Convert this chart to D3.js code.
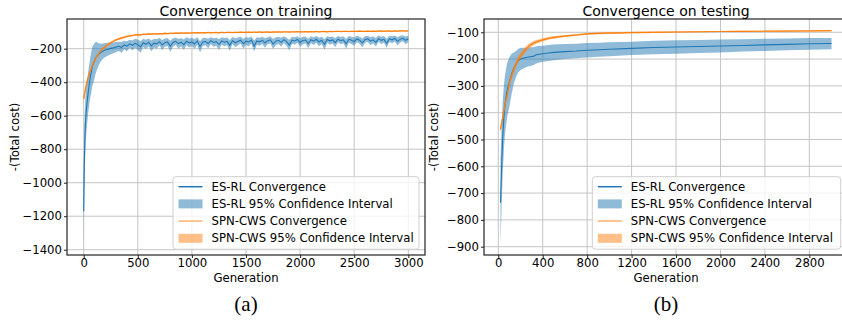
<!DOCTYPE html>
<html>
<head>
<meta charset="utf-8">
<script src="https://cdn.jsdelivr.net/npm/d3@7"></script>
<style>
  body { margin: 0; background: #fff; }
  text { font-family: 'DejaVu Sans', sans-serif; fill: #000; }
</style>
</head>
<body>
<div id="chart"></div>
<script>
// ---- data: training (every 25 generations after the early phase) ----
const trainGen = [0, 5, 10, 15, 20, 30, 40, 50, 60, 70, 80, 90, 100, 110, 120, 140, 160, 180, 200, 225, 250, 275, 300]
    .concat(d3.range(325, 3001, 25))

const trainEsMean = [
    -1170, -900, -760, -660, -600, -530, -470, -420, -375, -340, -305, -290,
    -272, -255, -245, -232, -222, -214, -208, -203, -198, -195, -190,
    -186, -192, -178, -185,  -171, -180, -168, -176,  -190, -165, -174, -162,
    -183, -167, -171, -158,  -178, -164, -160, -185,  -163, -156, -170, -161,
    -176, -155, -166, -159,  -172, -154, -188, -160,  -157, -169, -152, -163,
    -158, -175, -153, -161,  -156, -180, -151, -165,  -157, -149, -170, -155,
    -160, -148, -184, -154,  -159, -150, -166, -152,  -147, -172, -155, -150,
    -162, -146, -158, -178,  -149, -154, -145, -163,  -151, -148, -169, -146,
    -155, -144, -160, -150,  -175, -145, -153, -148,  -164, -143, -152, -147,
    -171, -144, -150, -158,  -142, -149, -166, -145,  -141, -155, -147, -162,
    -140, -150, -144, -168,  -141, -147, -139, -156,  -143, -138, -150, -141
]
const trainEsHalf = [
    210, 200, 180, 160, 145, 130, 125, 120, 120, 120, 118, 112,
    105, 95, 85, 65, 52, 45, 42, 38, 35, 32, 30,
    28, 32, 26, 30,  24, 29, 27, 31,  34, 25, 28, 23,  32, 26, 29, 22,
    30, 25, 24, 33,  26, 22, 29, 24,  31, 23, 27, 25,  29, 22, 34, 24,
    23, 28, 21, 26,  24, 31, 22, 25,  23, 32, 21, 27,  24, 20, 29, 23,
    25, 21, 33, 23,  24, 22, 28, 21,  21, 30, 23, 22,  27, 20, 24, 31,
    21, 23, 20, 26,  22, 21, 29, 20,  23, 20, 26, 22,  31, 20, 23, 21,
    27, 19, 22, 21,  29, 20, 22, 25,  19, 21, 27, 20,  19, 24, 21, 26,
    19, 22, 20, 28,  19, 21, 18, 25,  20, 18, 23, 19
]
const trainSpnMean = [
    -500, -480, -462, -445, -428, -400, -375, -355, -335, -318, -300, -285,
    -270, -258, -248, -228, -212, -198, -188, -175, -165, -155, -147,
    -141, -136, -131, -127,  -123, -121, -118, -116,  -117, -114, -115, -112,
    -113, -111, -112, -110,  -111, -109, -110, -108,  -109, -107, -108, -106,
    -108, -105, -107, -105,  -106, -104, -106, -104,  -105, -103, -105, -104,
    -103, -105, -102, -104,  -103, -102, -104, -102,  -103, -101, -103, -102,
    -101, -103, -101, -102,  -100, -102, -101, -100,  -102, -100, -101, -99,
    -101, -100, -99, -101,   -99, -100, -98, -100,   -99, -98, -100, -98,
    -99, -97, -99, -98,      -97, -99, -97, -98,      -97, -96, -98, -97,
    -96, -98, -96, -97,      -96, -95, -97, -96,      -95, -97, -95, -96,
    -95, -94, -96, -95,      -94, -96, -94, -95,      -94, -93, -95, -94
]
const trainSpnHalf = [
    22, 20, 18, 16, 15, 14, 13, 12, 12, 11, 11, 10,
    10, 10, 9, 9, 8, 8, 8, 7, 7, 7, 6,
    7, 7, 6, 6,  6, 5, 5, 5,  5, 4, 5, 4,  5, 4, 4, 4,  4, 5, 4, 4,
    4, 4, 4, 3,  4, 3, 4, 3,  3, 4, 3, 3,  4, 3, 3, 3,  3, 4, 3, 3,
    3, 3, 3, 3,  3, 3, 3, 3,  3, 3, 3, 3,  3, 3, 3, 3,  3, 3, 3, 3,
    3, 3, 3, 3,  3, 3, 3, 3,  3, 3, 3, 3,  3, 3, 3, 3,  3, 3, 3, 3,
    3, 3, 3, 3,  3, 3, 3, 3,  3, 3, 3, 3,  3, 3, 3, 3,  3, 3, 3, 3,
    3, 3, 3, 3,  3, 3, 3, 3,  3, 3, 3, 3
]

// ---- data: testing ----
const testGen = [20, 30, 40, 50, 60, 80, 100, 120, 140, 160, 180, 200, 230, 260, 290, 320, 340, 370,
    400, 450, 500, 600, 700, 800, 900, 1000, 1200, 1400, 1600, 1800, 2000, 2200, 2400, 2600, 2800, 3000]
const testEsMean = [-736, -600, -490, -420, -370, -315, -285, -255, -233, -218, -205, -200, -196, -193, -191, -189, -184, -182,
    -180, -177, -175, -172, -170, -167, -165, -163, -160, -157, -155, -153, -151, -149, -147, -145, -143, -142]
const testEsHalf = [160, 150, 135, 120, 110, 100, 92, 75, 58, 48, 44, 41, 38, 36, 35, 33, 32, 31,
    30, 30, 29, 28, 27, 27, 26, 26, 25, 25, 25, 24, 24, 23, 23, 22, 22, 21]
const testSpnMean = [-462, -440, -418, -395, -372, -335, -290, -262, -238, -218, -200, -188, -172, -158, -147, -140, -136, -132,
    -128, -123, -119, -114, -110, -106, -104, -103, -101, -100, -99, -98, -97, -96.5, -96, -95.5, -95, -94]
const testSpnHalf = [15, 14, 14, 13, 13, 12, 12, 12, 12, 12, 12, 12, 11, 10, 9, 8, 7, 6,
    6, 5, 5, 4, 4, 3, 3, 3, 3, 3, 2, 2, 2, 2, 2, 2, 2, 2]

const legendLabels = ['ES-RL Convergence', 'ES-RL 95% Confidence Interval', 'SPN-CWS Convergence', 'SPN-CWS 95% Confidence Interval']

const blue = '#1f77b4'
const orange = '#ff7f0e'

const svg = d3.select('#chart').append('svg')
    .attr('width', 842)
    .attr('height', 320)

function drawPanel(cfg) {
    const x = d3.scaleLinear().domain(cfg.xDomain).range([cfg.left, cfg.right])
    const y = d3.scaleLinear().domain(cfg.yDomain).range([cfg.bottom, cfg.top])
    const g = svg.append('g')

    // Grid lines
    g.selectAll('.vgrid').data(cfg.xTicks).join('line')
        .attr('x1', d => x(d)).attr('x2', d => x(d))
        .attr('y1', cfg.top).attr('y2', cfg.bottom)
        .attr('stroke', '#c4c4c4').attr('stroke-width', 1)
    g.selectAll('.hgrid').data(cfg.yTicks).join('line')
        .attr('x1', cfg.left).attr('x2', cfg.right)
        .attr('y1', d => y(d)).attr('y2', d => y(d))
        .attr('stroke', '#c4c4c4').attr('stroke-width', 1)

    svg.append('clipPath').attr('id', cfg.id)
        .append('rect')
        .attr('x', cfg.left).attr('y', cfg.top)
        .attr('width', cfg.right - cfg.left).attr('height', cfg.bottom - cfg.top)

    const plot = g.append('g').attr('clip-path', `url(#${cfg.id})`)

    const esRows = cfg.gens.map((d, i) => ({g: d, m: cfg.es[i], h: cfg.esHalf[i]})).filter(d => d.m != null)
    const spnRows = cfg.gens.map((d, i) => ({g: d, m: cfg.spn[i], h: cfg.spnHalf[i]})).filter(d => d.m != null)

    const line = d3.line().x(d => x(d.g)).y(d => y(d.m))
    const band = d3.area().x(d => x(d.g)).y0(d => y(d.m - d.h)).y1(d => y(d.m + d.h))

    plot.append('path').datum(esRows).attr('d', line)
        .attr('fill', 'none').attr('stroke', blue).attr('stroke-width', 1.1)
    plot.append('path').datum(esRows).attr('d', band)
        .attr('fill', blue).attr('fill-opacity', 0.5)
    plot.append('path').datum(spnRows).attr('d', line)
        .attr('fill', 'none').attr('stroke', orange).attr('stroke-width', 1.2)
    plot.append('path').datum(spnRows).attr('d', band)
        .attr('fill', orange).attr('fill-opacity', 0.5)

    // Axes
    const xAxis = g.append('g')
        .attr('transform', `translate(0,${cfg.bottom})`)
        .call(d3.axisBottom(x).tickValues(cfg.xTicks).tickSize(3).tickPadding(1).tickFormat(d3.format('d')))
    const yAxis = g.append('g')
        .attr('transform', `translate(${cfg.left},0)`)
        .call(d3.axisLeft(y).tickValues(cfg.yTicks).tickSize(3).tickPadding(2).tickFormat(d3.format('d')))
    for (const ax of [xAxis, yAxis]) {
        ax.attr('font-family', null).attr('font-size', null)
        ax.select('.domain').remove()
        ax.selectAll('text').style('font-size', '11.7px').style('font-family', "'DejaVu Sans', sans-serif")
        ax.selectAll('line').attr('stroke', '#222')
    }

    // Frame
    g.append('rect')
        .attr('x', cfg.left).attr('y', cfg.top)
        .attr('width', cfg.right - cfg.left).attr('height', cfg.bottom - cfg.top)
        .attr('fill', 'none').attr('stroke', '#222').attr('stroke-width', 1.2)

    // Legend
    const lg = g.append('g').attr('transform', `translate(${cfg.legendX},${cfg.legendY})`)
    lg.append('rect')
        .attr('width', cfg.legendW).attr('height', 72.5)
        .attr('rx', 3)
        .attr('fill', 'white').attr('fill-opacity', 0.8)
        .attr('stroke', '#cfcfcf').attr('stroke-width', 1)
    legendLabels.forEach((lab, i) => {
        const yy = 10 + i * 17.2
        const c = i < 2 ? blue : orange
        if (i % 2 === 0) {
            lg.append('line')
                .attr('x1', 5.5).attr('x2', 29.5).attr('y1', yy).attr('y2', yy)
                .attr('stroke', c).attr('stroke-width', 1.5)
                .attr('stroke-opacity', i === 2 ? 0.6 : 1)
        } else {
            lg.append('rect')
                .attr('x', 5.5).attr('y', yy - 4.5).attr('width', 24).attr('height', 9)
                .attr('fill', c).attr('fill-opacity', 0.5)
        }
        lg.append('text')
            .attr('x', 38.5).attr('y', yy).attr('dy', '0.36em')
            .style('font-size', '11.7px')
            .text(lab)
    })

    // Titles and labels
    svg.append('text')
        .attr('x', cfg.titleX).attr('y', 15.5)
        .attr('text-anchor', 'middle')
        .style('font-size', '14px')
        .text(cfg.title)
    svg.append('text')
        .attr('x', cfg.titleX).attr('y', 282)
        .attr('text-anchor', 'middle')
        .style('font-size', '11.7px')
        .text('Generation')
    svg.append('text')
        .attr('transform', `translate(${cfg.yLabelX},${(cfg.top + cfg.bottom) / 2}) rotate(-90)`)
        .attr('text-anchor', 'middle')
        .style('font-size', '11.7px')
        .text('-(Total cost)')
    svg.append('text')
        .attr('x', cfg.titleX).attr('y', 311)
        .attr('text-anchor', 'middle')
        .style('font-family', "'Liberation Serif', serif")
        .style('font-size', '21px')
        .text(cfg.tag)
}

drawPanel({
    id: 'clipTrain',
    left: 67, right: 425, top: 19, bottom: 255,
    xDomain: [-154.3, 3154], yDomain: [-1431.6, -22.7],
    xTicks: d3.range(0, 3001, 500), yTicks: d3.range(-1400, -199, 200),
    gens: trainGen, es: trainEsMean, esHalf: trainEsHalf, spn: trainSpnMean, spnHalf: trainSpnHalf,
    legendX: 173, legendY: 176.7, legendW: 246,
    title: 'Convergence on training', titleX: 246, yLabelX: 19, tag: '(a)'
})

drawPanel({
    id: 'clipTest',
    left: 484, right: 847, top: 19, bottom: 255,
    xDomain: [-128.7, 3139], yDomain: [-931, -50.4],
    xTicks: d3.range(0, 2801, 400), yTicks: d3.range(-900, -99, 100),
    gens: testGen, es: testEsMean, esHalf: testEsHalf, spn: testSpnMean, spnHalf: testSpnHalf,
    legendX: 592.3, legendY: 176.7, legendW: 248.4,
    title: 'Convergence on testing', titleX: 666, yLabelX: 438, tag: '(b)'
})
</script>
</body>
</html>
